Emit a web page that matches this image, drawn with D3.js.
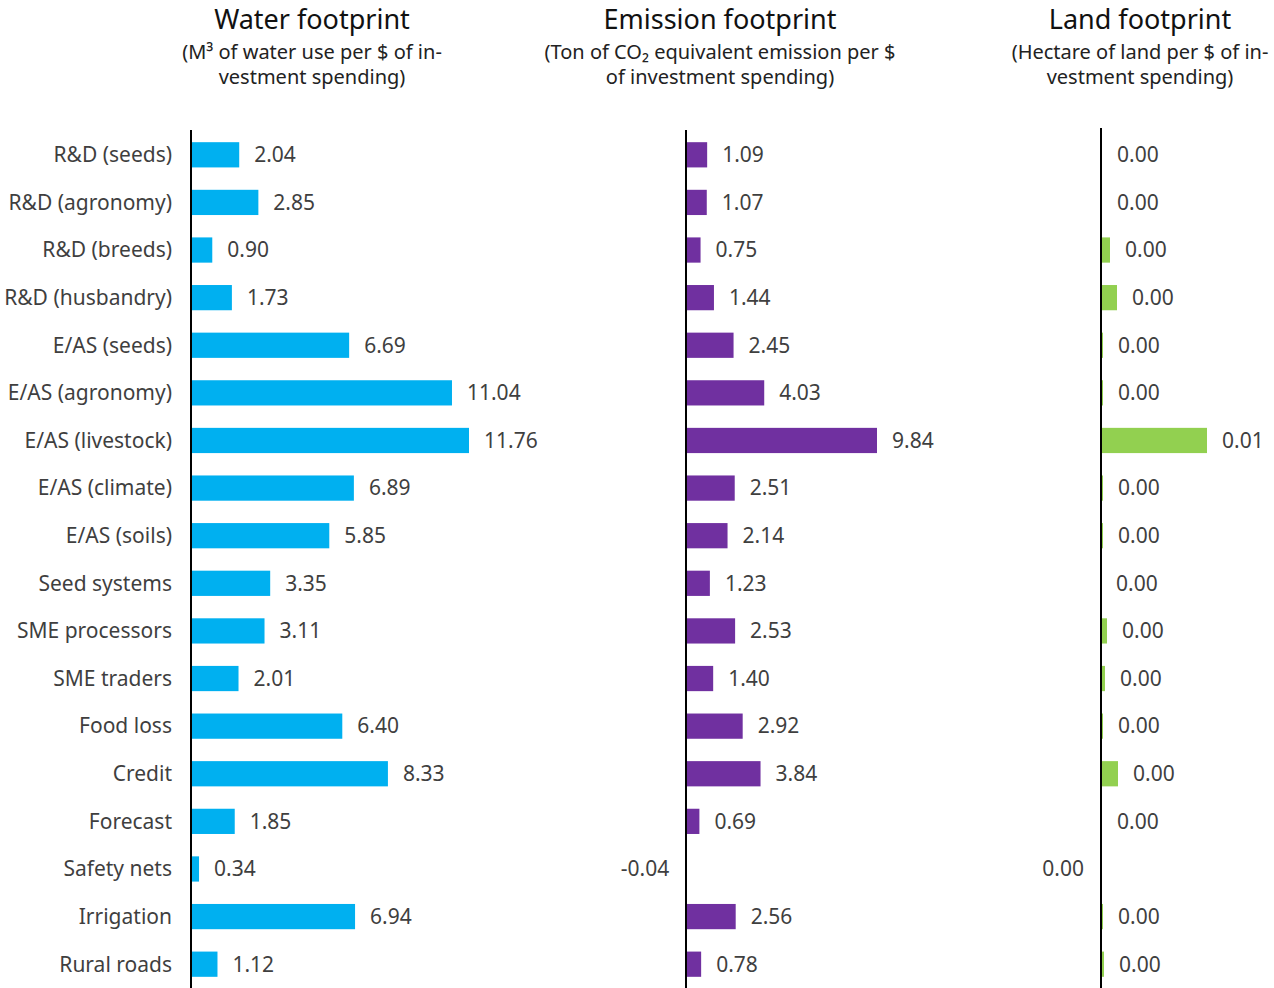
<!DOCTYPE html>
<html><head><meta charset="utf-8">
<script src="https://cdn.jsdelivr.net/npm/d3@7"></script>
<style>body{margin:0;background:#fff}svg{display:block}text{font-family:"Noto Sans",sans-serif}</style>
</head><body><svg id="c" width="1274" height="988"></svg>
<script>
const categories = ["R&D (seeds)","R&D (agronomy)","R&D (breeds)","R&D (husbandry)","E/AS (seeds)","E/AS (agronomy)","E/AS (livestock)","E/AS (climate)","E/AS (soils)","Seed systems","SME processors","SME traders","Food loss","Credit","Forecast","Safety nets","Irrigation","Rural roads"];
const waterValues = [2.04,2.85,0.90,1.73,6.69,11.04,11.76,6.89,5.85,3.35,3.11,2.01,6.40,8.33,1.85,0.34,6.94,1.12];
const emissionValues = [1.09,1.07,0.75,1.44,2.45,4.03,9.84,2.51,2.14,1.23,2.53,1.40,2.92,3.84,0.69,-0.04,2.56,0.78];
const landValues = [0.0001,0.0001,0.0009,0.0016,0.0002,0.0002,0.0106,0.0002,0.0002,0.0000,0.0006,0.0004,0.0002,0.0017,0.0001,-0.0001,0.0002,0.0003];
const panelTitles = ["Water footprint","Emission footprint","Land footprint"];
const subtitleLines = [
  ["(M³ of water use per $ of in-","vestment spending)"],
  ["(Ton of CO₂ equivalent emission per $","of investment spending)"],
  ["(Hectare of land per $ of in-","vestment spending)"]
];

const svg = d3.select("#c");
const y = d3.scaleBand().domain(categories).range([131,988]).paddingInner(0.47).paddingOuter(0.235);
const textColor = "#3f3f3f";
const fmt = d3.formatLocale({decimal:".", thousands:",", grouping:[3], currency:["$",""], minus:"-"}).format(".2f");

const panels = [
  {values: waterValues, x: d3.scaleLinear().domain([0, d3.max(waterValues)]).range([191, 469]), color:"#00B0F0", top:130, cx:312},
  {values: emissionValues, x: d3.scaleLinear().domain([0, d3.max(emissionValues)]).range([686, 877]), color:"#7030A0", top:130, cx:720},
  {values: landValues, x: d3.scaleLinear().domain([0, d3.max(landValues)]).range([1101, 1207]), color:"#92D050", top:128, cx:1140}
];

svg.append("g").selectAll("text").data(categories).join("text")
  .attr("x", 172).attr("y", d => y(d) + y.bandwidth()/2)
  .attr("dy","0.35em").attr("text-anchor","end")
  .attr("font-size", 21).attr("fill", textColor).text(d => d);

panels.forEach((p, pi) => {
  const g = svg.append("g");
  const data = categories.map((c,i) => ({c, v: p.values[i]}));
  g.selectAll("rect").data(data).join("rect")
    .attr("x", d => Math.min(p.x(0), p.x(d.v)))
    .attr("y", d => y(d.c))
    .attr("width", d => Math.abs(p.x(d.v) - p.x(0)))
    .attr("height", y.bandwidth())
    .attr("fill", p.color);
  g.append("line").attr("x1", p.x(0)).attr("x2", p.x(0)).attr("y1", p.top).attr("y2", 988)
    .attr("stroke", "#000").attr("stroke-width", 2);
  g.selectAll("text.v").data(data).join("text").attr("class","v")
    .attr("x", d => d.v < 0 ? p.x(d.v) - 16 : p.x(d.v) + 15)
    .attr("y", d => y(d.c) + y.bandwidth()/2)
    .attr("dy","0.35em").attr("text-anchor", d => d.v < 0 ? "end" : "start")
    .attr("font-size", 21).attr("fill", textColor)
    .text(d => fmt(d.v));
  svg.append("text").attr("x", p.cx).attr("y", 29).attr("text-anchor","middle")
    .attr("font-size", 27).attr("fill","#111").text(panelTitles[pi]);
  subtitleLines[pi].forEach((line, li) => {
    svg.append("text").attr("x", p.cx).attr("y", 58.5 + li*25.5).attr("text-anchor","middle")
      .attr("font-size", 20).attr("fill","#222").text(line);
  });
});
</script></body></html>
